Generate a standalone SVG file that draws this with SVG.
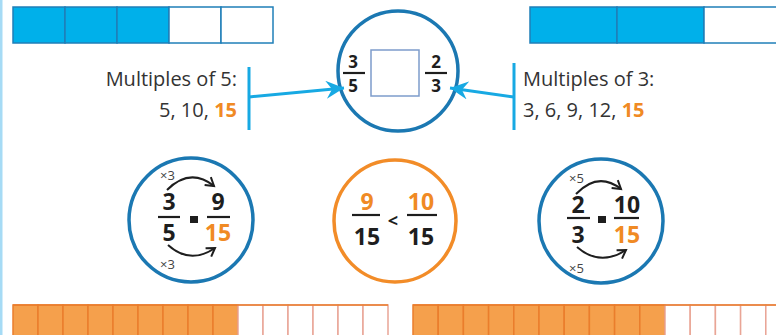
<svg xmlns="http://www.w3.org/2000/svg" width="776" height="335" viewBox="0 0 776 335">
  <style>
    .bar-blue { fill: #00b0ea; stroke: #1f7fb8; stroke-width: 1.5; }
    .bar-empty { fill: #ffffff; stroke: #1f7fb8; stroke-width: 1.5; }
    .bar-orange { fill: #f5a04c; stroke: #ea7d2c; stroke-width: 1.5; }
    .bar-orange-empty { fill: #ffffff; stroke: #e9a596; stroke-width: 1.5; }
    .label { font-family: "Open Sans", "Noto Sans", sans-serif; font-size: 20px; font-weight: 500; fill: #333333; }
    .hl { fill: #f08a24; font-weight: bold; }
    .num { font-family: "Open Sans", "Liberation Sans", sans-serif; font-weight: bold; fill: #1e1e1e; text-anchor: middle; }
    .num-o { fill: #f08a24; }
    .small { font-family: "Open Sans", "Liberation Sans", sans-serif; font-size: 13px; fill: #444; }
    .fbar { stroke: #1e1e1e; stroke-width: 2.2; }
    .ring-blue { fill: #ffffff; stroke: #1b78b2; stroke-width: 3.5; }
    .ring-orange { fill: #ffffff; stroke: #f28c28; stroke-width: 3.5; }
    .link { fill: none; stroke: #17a9e3; stroke-width: 3; }
    .hop { fill: none; stroke: #1e1e1e; stroke-width: 2; }
  </style>
  <defs>
    <marker id="tip" markerUnits="userSpaceOnUse" markerWidth="22" markerHeight="20" refX="18" refY="9" orient="auto">
      <path d="M18,9 L0,0 L6,9 L0,18 Z" fill="#17a9e3"/>
    </marker>
    <marker id="hopTip" markerUnits="userSpaceOnUse" markerWidth="14" markerHeight="14" refX="10" refY="6" orient="auto">
      <path d="M2,1 L10,6 L2,11" fill="none" stroke="#1e1e1e" stroke-width="2"/>
    </marker>
  </defs>

  <!-- page edge -->
  <rect x="0" y="0" width="2.5" height="335" fill="#a6dbf5"/>

  <!-- fifths bar -->
  <g id="bar-fifths">
    <rect class="bar-blue" x="13" y="7" width="52" height="36"/>
    <rect class="bar-blue" x="65" y="7" width="52" height="36"/>
    <rect class="bar-blue" x="117" y="7" width="52" height="36"/>
    <rect class="bar-empty" x="169" y="7" width="52" height="36"/>
    <rect class="bar-empty" x="221" y="7" width="52" height="36"/>
  </g>

  <!-- thirds bar -->
  <g id="bar-thirds">
    <rect class="bar-blue" x="530" y="7" width="87" height="36"/>
    <rect class="bar-blue" x="617" y="7" width="87" height="36"/>
    <rect class="bar-empty" x="704" y="7" width="87" height="36"/>
  </g>

  <!-- multiples of 5 -->
  <g id="multiples-5">
    <text class="label" x="237" y="86" text-anchor="end">Multiples of 5:</text>
    <text class="label" x="237" y="117" text-anchor="end">5, 10, <tspan class="hl">15</tspan></text>
    <line x1="249" y1="67" x2="249" y2="130" stroke="#17a9e3" stroke-width="3"/>
  </g>

  <!-- multiples of 3 -->
  <g id="multiples-3">
    <text class="label" x="523" y="86">Multiples of 3:</text>
    <text class="label" x="523" y="117">3, 6, 9, 12, <tspan class="hl">15</tspan></text>
    <line x1="514" y1="63" x2="514" y2="130" stroke="#17a9e3" stroke-width="3"/>
  </g>

  <!-- comparison to complete -->
  <g id="compare">
    <circle class="ring-blue" cx="398" cy="71" r="60"/>
    <text class="num" x="353" y="68" font-size="17">3</text>
    <line class="fbar" x1="343" y1="73" x2="365" y2="73"/>
    <text class="num" x="353" y="92" font-size="17">5</text>
    <rect x="371" y="50" width="48" height="46" fill="#ffffff" stroke="#7d9ccb" stroke-width="1.5"/>
    <text class="num" x="436" y="68" font-size="17">2</text>
    <line class="fbar" x1="425" y1="73" x2="447" y2="73"/>
    <text class="num" x="436" y="92" font-size="17">3</text>
  </g>

  <!-- connectors -->
  <g id="connectors">
    <path class="link" d="M249,97 L344,88" marker-end="url(#tip)"/>
    <path class="link" d="M514,97 L450,88" marker-end="url(#tip)"/>
  </g>

  <!-- 3/5 = 9/15 -->
  <g id="convert-fifths">
    <circle class="ring-blue" cx="191" cy="220" r="62"/>
    <text class="small" x="160" y="180">×3</text>
    <path class="hop" d="M167,190 Q190,167 214,186" marker-end="url(#hopTip)"/>
    <text class="num" x="169" y="210" font-size="23">3</text>
    <line class="fbar" x1="158" y1="217" x2="180" y2="217"/>
    <text class="num" x="169" y="241" font-size="23">5</text>
    <rect x="190" y="216" width="8" height="7" fill="#1e1e1e"/>
    <text class="num" x="218" y="210" font-size="23">9</text>
    <line class="fbar" x1="207" y1="217" x2="230" y2="217"/>
    <text class="num num-o" x="218" y="241" font-size="23">15</text>
    <path class="hop" d="M168,245 Q190,265 215,248" marker-end="url(#hopTip)"/>
    <text class="small" x="160" y="269">×3</text>
  </g>

  <!-- 9/15 < 10/15 -->
  <g id="result">
    <circle class="ring-orange" cx="395" cy="221" r="61"/>
    <text class="num num-o" x="367" y="210" font-size="23">9</text>
    <line class="fbar" x1="352" y1="215" x2="380" y2="215"/>
    <text class="num" x="367" y="245" font-size="23">15</text>
    <text class="num" x="393" y="227" font-size="18">&lt;</text>
    <text class="num num-o" x="421" y="210" font-size="23">10</text>
    <line class="fbar" x1="407" y1="215" x2="437" y2="215"/>
    <text class="num" x="421" y="245" font-size="23">15</text>
  </g>

  <!-- 2/3 = 10/15 -->
  <g id="convert-thirds">
    <circle class="ring-blue" cx="601" cy="221" r="62"/>
    <text class="small" x="569" y="183">×5</text>
    <path class="hop" d="M576,194 Q598,171 621,189" marker-end="url(#hopTip)"/>
    <text class="num" x="578" y="213" font-size="23">2</text>
    <line class="fbar" x1="567" y1="218" x2="590" y2="218"/>
    <text class="num" x="578" y="243" font-size="23">3</text>
    <rect x="598" y="216" width="8" height="7" fill="#1e1e1e"/>
    <text class="num" x="627" y="213" font-size="23">10</text>
    <line class="fbar" x1="614" y1="218" x2="639" y2="218"/>
    <text class="num num-o" x="627" y="243" font-size="23">15</text>
    <path class="hop" d="M577,247 Q600,267 626,250" marker-end="url(#hopTip)"/>
    <text class="small" x="569" y="273">×5</text>
  </g>

  <!-- fifteenths bar, 9 shaded -->
  <g id="bar-nine-fifteenths">
    <rect class="bar-orange" x="13" y="305" width="25" height="40"/>
    <rect class="bar-orange" x="38" y="305" width="25" height="40"/>
    <rect class="bar-orange" x="63" y="305" width="25" height="40"/>
    <rect class="bar-orange" x="88" y="305" width="25" height="40"/>
    <rect class="bar-orange" x="113" y="305" width="25" height="40"/>
    <rect class="bar-orange" x="138" y="305" width="25" height="40"/>
    <rect class="bar-orange" x="163" y="305" width="25" height="40"/>
    <rect class="bar-orange" x="188" y="305" width="25" height="40"/>
    <rect class="bar-orange" x="213" y="305" width="25" height="40"/>
    <rect class="bar-orange-empty" x="238" y="305" width="25" height="40"/>
    <rect class="bar-orange-empty" x="263" y="305" width="25" height="40"/>
    <rect class="bar-orange-empty" x="288" y="305" width="25" height="40"/>
    <rect class="bar-orange-empty" x="313" y="305" width="25" height="40"/>
    <rect class="bar-orange-empty" x="338" y="305" width="25" height="40"/>
    <rect class="bar-orange-empty" x="363" y="305" width="25" height="40"/>
    <line x1="13" y1="305" x2="388" y2="305" stroke="#ea7d2c" stroke-width="1.5"/>
  </g>

  <!-- fifteenths bar, 10 shaded -->
  <g id="bar-ten-fifteenths">
    <rect class="bar-orange" x="413" y="305" width="25.2" height="40"/>
    <rect class="bar-orange" x="438.2" y="305" width="25.2" height="40"/>
    <rect class="bar-orange" x="463.4" y="305" width="25.2" height="40"/>
    <rect class="bar-orange" x="488.6" y="305" width="25.2" height="40"/>
    <rect class="bar-orange" x="513.8" y="305" width="25.2" height="40"/>
    <rect class="bar-orange" x="539" y="305" width="25.2" height="40"/>
    <rect class="bar-orange" x="564.2" y="305" width="25.2" height="40"/>
    <rect class="bar-orange" x="589.4" y="305" width="25.2" height="40"/>
    <rect class="bar-orange" x="614.6" y="305" width="25.2" height="40"/>
    <rect class="bar-orange" x="639.8" y="305" width="25.2" height="40"/>
    <rect class="bar-orange-empty" x="665" y="305" width="25.2" height="40"/>
    <rect class="bar-orange-empty" x="690.2" y="305" width="25.2" height="40"/>
    <rect class="bar-orange-empty" x="715.4" y="305" width="25.2" height="40"/>
    <rect class="bar-orange-empty" x="740.6" y="305" width="25.2" height="40"/>
    <rect class="bar-orange-empty" x="765.8" y="305" width="25.2" height="40"/>
    <line x1="413" y1="305" x2="776" y2="305" stroke="#ea7d2c" stroke-width="1.5"/>
  </g>
</svg>
